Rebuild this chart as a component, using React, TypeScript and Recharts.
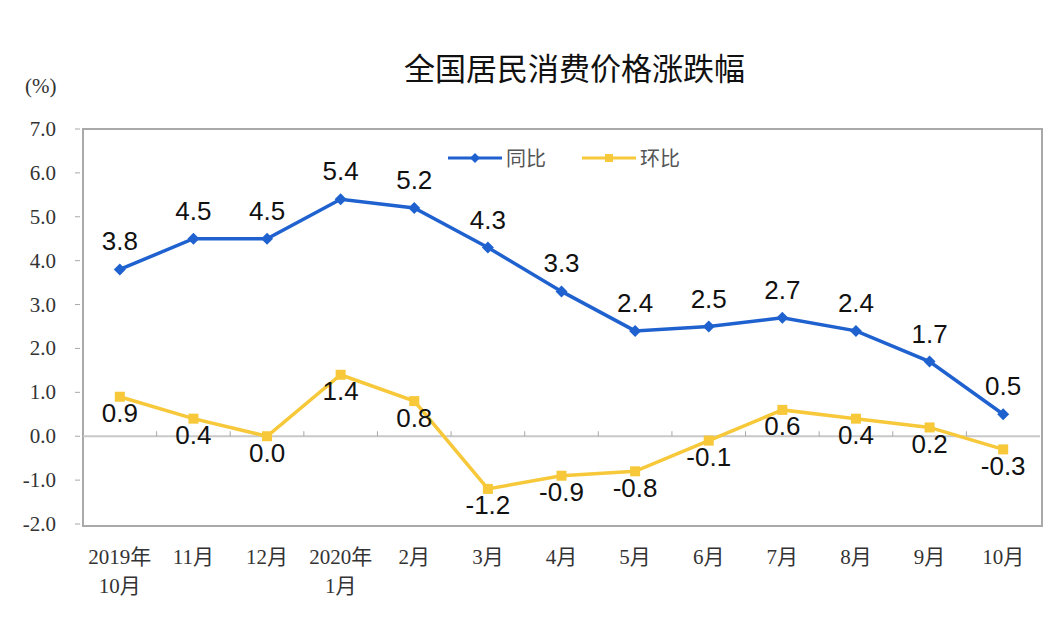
import React from "react";
import {
  LineChart,
  Line,
  XAxis,
  YAxis,
  ReferenceLine,
  LabelList,
} from "recharts";

const months = [
  "2019年\n10月",
  "11月",
  "12月",
  "2020年\n1月",
  "2月",
  "3月",
  "4月",
  "5月",
  "6月",
  "7月",
  "8月",
  "9月",
  "10月",
];
const yoy = [3.8, 4.5, 4.5, 5.4, 5.2, 4.3, 3.3, 2.4, 2.5, 2.7, 2.4, 1.7, 0.5];
const mom = [0.9, 0.4, 0.0, 1.4, 0.8, -1.2, -0.9, -0.8, -0.1, 0.6, 0.4, 0.2, -0.3];
const yTicks = [-2, -1, 0, 1, 2, 3, 4, 5, 6, 7];

const BLUE = "#1f62cf";
const YELLOW = "#f6c83a";
const FRAME = "#a9a9a9";

const W = 1052;
const H = 622;
const TOP = 129;
const BOTTOM = 524;
const LEFT = 83;
const RIGHT = 1040;
const BAND = (RIGHT - LEFT) / months.length;

const data = months.map((m, i) => ({ month: m, yoy: yoy[i], mom: mom[i] }));

function YTick({ x, y, payload }: any) {
  return (
    <g>
      <text
        x={56}
        y={y}
        dy={7}
        textAnchor="end"
        fontFamily="Liberation Serif, DejaVu Serif, serif"
        fontSize={21}
        fill="#333"
      >
        {payload.value.toFixed(1)}
      </text>
      <line x1={x} x2={x + 5} y1={y} y2={y} stroke={FRAME} />
    </g>
  );
}

function XTick({ x, y, payload, index }: any) {
  const lines = String(payload.value).split("\n");
  const zeroY = TOP + (7 / 9) * (BOTTOM - TOP);
  return (
    <g>
      {index < months.length - 1 && (
        <line
          x1={x + BAND / 2}
          x2={x + BAND / 2}
          y1={zeroY}
          y2={zeroY - 5}
          stroke={FRAME}
        />
      )}
      {lines.map((l, i) => (
        <text
          key={i}
          x={x}
          y={y + 32 + i * 29}
          textAnchor="middle"
          fontFamily="Liberation Serif, 'Noto Sans CJK SC', serif"
          fontSize={21}
          fill="#333"
        >
          {l}
        </text>
      ))}
    </g>
  );
}

function LegendBox() {
  const item = (color: string, label: string, square: boolean) => (
    <div style={{ display: "flex", alignItems: "center", marginRight: 36 }}>
      <svg width={54} height={12}>
        <line x1={0} x2={54} y1={6} y2={6} stroke={color} strokeWidth={3} />
        {square ? (
          <rect x={23} y={2} width={8} height={8} fill={color} />
        ) : (
          <polygon points="27,1 32,6 27,11 22,6" fill={color} />
        )}
      </svg>
      <span
        style={{
          fontFamily: "'Noto Sans CJK SC', sans-serif",
          fontSize: 20,
          color: "#555",
          marginLeft: 4,
        }}
      >
        {label}
      </span>
    </div>
  );
  return (
    <div style={{ position: "absolute", left: 448, top: 143, display: "flex" }}>
      {item(BLUE, "同比", false)}
      {item(YELLOW, "环比", true)}
    </div>
  );
}

function Diamond({ cx, cy }: any) {
  if (cx == null || cy == null) return null;
  return (
    <polygon
      points={`${cx},${cy - 6} ${cx + 6},${cy} ${cx},${cy + 6} ${cx - 6},${cy}`}
      fill={BLUE}
    />
  );
}

function Square({ cx, cy }: any) {
  if (cx == null || cy == null) return null;
  return <rect x={cx - 5} y={cy - 5} width={10} height={10} fill={YELLOW} />;
}

const labelStyle = {
  fontFamily: "Liberation Sans, Arial, sans-serif",
  fontSize: 26,
  fill: "#111",
};

export default function App() {
  return (
    <div
      style={{
        position: "absolute",
        left: 0,
        top: 0,
        width: W,
        height: H,
        background: "#fff",
      }}
    >
      <div
        style={{
          position: "absolute",
          left: 404,
          top: 44,
          fontFamily: "'Noto Sans CJK SC', sans-serif",
          fontSize: 31,
          color: "#111",
          whiteSpace: "nowrap",
        }}
      >
        全国居民消费价格涨跌幅
      </div>
      <div
        style={{
          position: "absolute",
          left: 25,
          top: 74,
          fontFamily: "Liberation Serif, serif",
          fontSize: 21,
          color: "#333",
        }}
      >
        (%)
      </div>
      <div
        style={{
          position: "absolute",
          left: LEFT - 1,
          top: TOP - 1,
          width: RIGHT - LEFT,
          height: BOTTOM - TOP,
          border: `2px solid ${FRAME}`,
          pointerEvents: "none",
        }}
      />
      <LegendBox />
      <LineChart
        width={W}
        height={H}
        data={data}
        margin={{ top: TOP, right: W - RIGHT, bottom: H - BOTTOM - 60, left: 8 }}
        style={{ position: "absolute", left: 0, top: 0 }}
      >
        <XAxis
          dataKey="month"
          interval={0}
          height={60}
          padding={{ left: BAND / 2, right: BAND / 2 }}
          axisLine={false}
          tickLine={false}
          tick={<XTick />}
        />
        <YAxis
          domain={[-2, 7]}
          ticks={yTicks}
          interval={0}
          width={LEFT - 8}
          axisLine={false}
          tickLine={false}
          tick={<YTick />}
        />
        <ReferenceLine y={0} stroke="#c8c8c8" strokeWidth={2} />
        <Line
          dataKey="yoy"
          stroke={BLUE}
          strokeWidth={3.5}
          dot={<Diamond />}
          activeDot={false}
          isAnimationActive={false}
        >
          <LabelList
            dataKey="yoy"
            position="top"
            offset={19}
            style={labelStyle}
            formatter={(v: any) => Number(v).toFixed(1)}
          />
        </Line>
        <Line
          dataKey="mom"
          stroke={YELLOW}
          strokeWidth={3.5}
          dot={<Square />}
          activeDot={false}
          isAnimationActive={false}
        >
          <LabelList
            dataKey="mom"
            position="bottom"
            offset={7}
            style={labelStyle}
            formatter={(v: any) => Number(v).toFixed(1)}
          />
        </Line>
      </LineChart>
    </div>
  );
}
